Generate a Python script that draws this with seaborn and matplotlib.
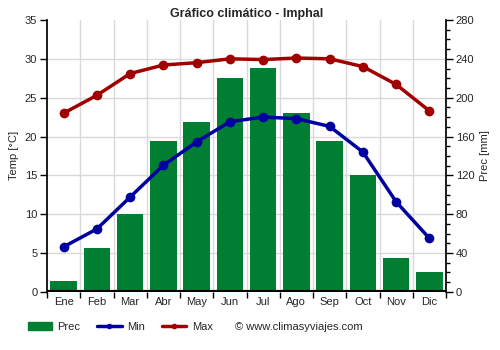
import matplotlib
matplotlib.use("Agg")
import matplotlib.pyplot as plt
import seaborn as sns
import pandas as pd
import numpy as np
from matplotlib.patches import Patch
from matplotlib.lines import Line2D
from matplotlib.ticker import MultipleLocator, FixedLocator

months = ["Ene", "Feb", "Mar", "Abr", "May", "Jun", "Jul", "Ago", "Sep", "Oct", "Nov", "Dic"]
prec = [11, 45, 80, 155, 175, 220, 231, 184, 155, 120, 35, 21]
tmin = [5.8, 8.1, 12.2, 16.3, 19.3, 21.9, 22.5, 22.3, 21.3, 18.0, 11.6, 6.9]
tmax = [23.0, 25.3, 28.1, 29.2, 29.5, 30.0, 29.9, 30.1, 30.0, 29.0, 26.7, 23.3]

green = "#007f32"
blue = "#0000a0"
red = "#a00000"

sns.set_theme(style="white")
plt.rcParams["font.family"] = ["Liberation Sans", "DejaVu Sans"]

df = pd.DataFrame({"idx": np.arange(12), "month": months, "prec": prec, "tmin": tmin, "tmax": tmax})

fig = plt.figure(figsize=(5, 3.5), dpi=100)
ax = fig.add_axes([0.094, 0.166, 0.798, 0.777])
ax2 = ax.twinx()

# precipitation bars on ax (right-side axis)
sns.barplot(data=df, x="idx", y="prec", color=green, saturation=1, width=0.8, ax=ax,
            linewidth=0, edgecolor="none", zorder=2)
ax.set_ylim(0, 280)
ax.yaxis.tick_right()
ax.yaxis.set_label_position("right")
ax.set_ylabel("Prec [mm]", fontsize=8)
ax.yaxis.set_major_locator(MultipleLocator(40))
ax.yaxis.set_minor_locator(MultipleLocator(10))
ax.set_xlabel("")
ax.set_xlim(-0.5, 11.5)
ax.set_xticks(np.arange(12))
ax.set_xticklabels(months, fontsize=8)
ax.xaxis.set_minor_locator(FixedLocator(np.arange(-0.5, 12, 1)))

# temperature on ax2 (left-side axis)
sns.lineplot(data=df, x="idx", y="tmin", color=blue, lw=2.5, marker="o", markersize=7,
             markeredgewidth=0, ax=ax2, zorder=3)
sns.lineplot(data=df, x="idx", y="tmax", color=red, lw=2.5, marker="o", markersize=7,
             markeredgewidth=0, ax=ax2, zorder=3)
ax2.set_ylim(0, 35)
ax2.yaxis.tick_left()
ax2.yaxis.set_label_position("left")
ax2.set_ylabel("Temp [°C]", fontsize=8)
ax2.yaxis.set_major_locator(MultipleLocator(5))
ax2.set_xlabel("")
ax2.set_xlim(-0.5, 11.5)

# gridlines
for y in np.arange(5, 35, 5):
    ax.axhline(y * 8, color="#d9d9d9", lw=1, zorder=0)
for x in np.arange(0.5, 11.5, 1):
    ax.axvline(x, color="#d9d9d9", lw=1, zorder=0)
ax.axhline(0, color="black", lw=3, zorder=4)

for a in (ax, ax2):
    for s in a.spines.values():
        s.set_visible(False)
ax2.spines["left"].set_visible(True)
ax2.spines["left"].set_color("black")
ax.spines["right"].set_visible(True)
ax.spines["right"].set_color("black")

ax.tick_params(axis="y", which="major", right=True, left=False, length=5, width=1, color="black", labelsize=8, pad=2)
ax.tick_params(axis="y", which="minor", right=True, left=False, length=3, width=1, color="black")
ax.tick_params(axis="x", which="major", bottom=True, length=0, labelsize=8, pad=4)
ax.tick_params(axis="x", which="minor", bottom=True, length=4, width=1, color="black")
ax2.tick_params(axis="y", left=True, right=False, length=5, width=1, color="black", labelsize=8, pad=2)

ax.set_title("Gráfico climático - Imphal", fontsize=9, fontweight="bold", pad=-8)

handles = [
    Patch(facecolor=green, edgecolor=green, label="Prec"),
    Line2D([0], [0], color=blue, lw=2.5, marker="o", markersize=3, label="Min"),
    Line2D([0], [0], color=red, lw=2.5, marker="o", markersize=3, label="Max"),
]
fig.legend(handles=handles, loc="center left", bbox_to_anchor=(0.035, 0.066), ncol=3,
           frameon=False, fontsize=8, handlelength=2.2, handletextpad=0.5, columnspacing=1.5)
fig.text(0.47, 0.066, "© www.climasyviajes.com", fontsize=8, va="center", ha="left")

fig.savefig("out.png", dpi=100)
